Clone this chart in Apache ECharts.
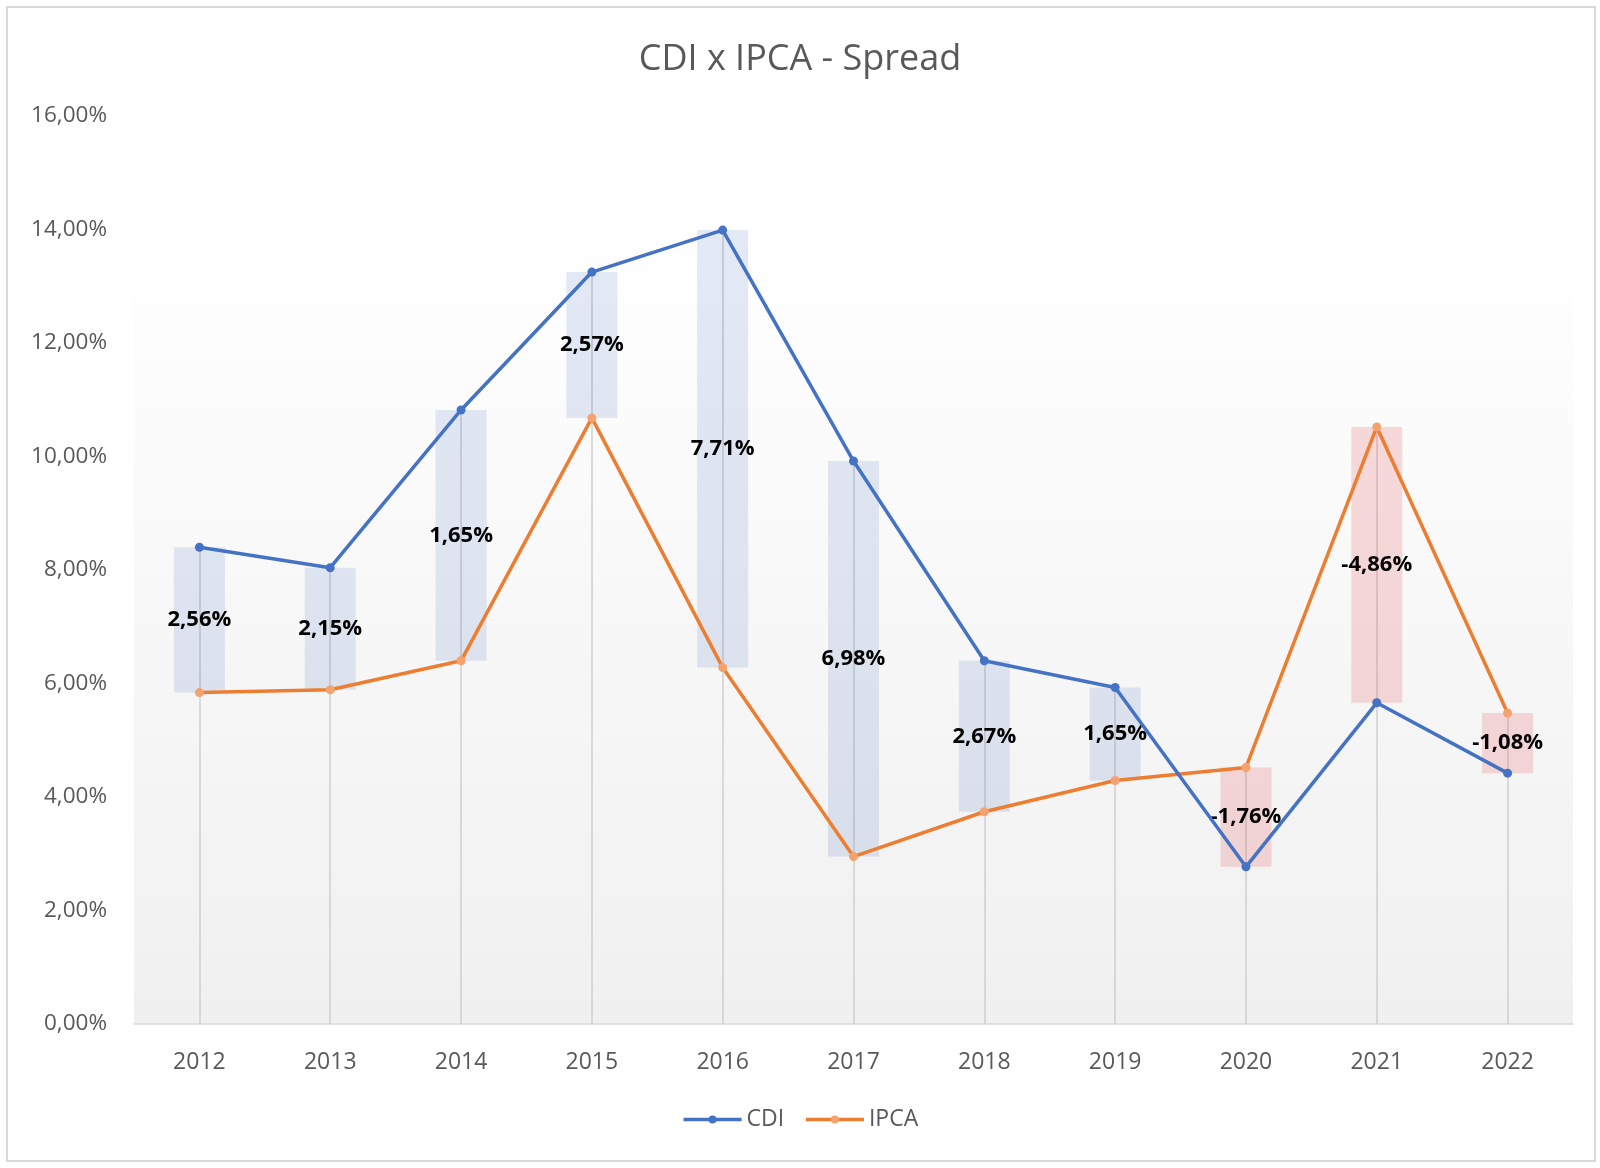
<!DOCTYPE html>
<html>
<head>
<meta charset="utf-8">
<script src="https://cdn.jsdelivr.net/npm/echarts@6/dist/echarts.min.js"></script>
<style>
  html, body { margin: 0; padding: 0; background: #fff; }
  #chart { width: 1600px; height: 1168px; }
</style>
</head>
<body>
<div id="chart"></div>
<script>
const years = ['2012', '2013', '2014', '2015', '2016', '2017', '2018', '2019', '2020', '2021', '2022'];
const cdi = [8.40, 8.04, 10.82, 13.25, 13.99, 9.92, 6.40, 5.93, 2.77, 5.66, 4.42];
const ipca = [5.84, 5.89, 6.40, 10.68, 6.28, 2.95, 3.74, 4.29, 4.52, 10.52, 5.48];
// labels as written in the chart
const spreadLabels = ['2,56%', '2,15%', '1,65%', '2,57%', '7,71%', '6,98%', '2,67%', '1,65%', '-1,76%', '-4,86%', '-1,08%'];

const font = 'Open Sans';
const gray = '#595959';

const base = years.map((y, i) => Math.min(cdi[i], ipca[i]));
const gap = years.map((y, i) => ({
  value: Math.abs(cdi[i] - ipca[i]),
  itemStyle: { color: cdi[i] >= ipca[i] ? 'rgba(68,114,196,0.15)' : 'rgba(230,80,80,0.2)' }
}));
const drops = years.map((y, i) => [
  { coord: [i, 0] },
  { coord: [i, Math.max(cdi[i], ipca[i])] }
]);

const chart = echarts.init(document.getElementById('chart'));
chart.setOption({
  animation: false,
  backgroundColor: '#fff',
  textStyle: { fontFamily: font },
  graphic: [{
    type: 'rect',
    shape: { x: 7, y: 7, width: 1588, height: 1154 },
    style: { fill: 'none', stroke: '#d9d9d9', lineWidth: 2 },
    z: -1
  }],
  title: {
    text: 'CDI x IPCA - Spread',
    left: 'center',
    top: 37,
    textStyle: { color: gray, fontSize: 36, fontWeight: 'normal', fontFamily: font }
  },
  legend: {
    bottom: 32,
    left: 'center',
    data: ['CDI', 'IPCA'],
    itemWidth: 58,
    itemHeight: 10,
    itemGap: 20,
    lineStyle: { width: 3.5 },
    textStyle: { color: gray, fontSize: 23, fontFamily: font }
  },
  grid: { left: 134, right: 27, top: 116, bottom: 144 },
  xAxis: {
    type: 'category',
    data: years,
    axisLine: { lineStyle: { color: '#d9d9d9', width: 1.5 } },
    axisTick: { show: false },
    axisLabel: { color: gray, fontSize: 23, margin: 27, fontFamily: font }
  },
  yAxis: {
    type: 'value',
    min: 0,
    max: 16,
    interval: 2,
    splitLine: { show: false },
    axisLine: { show: false },
    axisTick: { show: false },
    axisLabel: {
      color: gray, fontSize: 22.5, margin: 27, fontFamily: font,
      formatter: v => v.toFixed(2).replace('.', ',') + '%'
    }
  },
  series: [
    {
      name: 'base',
      type: 'bar',
      stack: 'spread',
      barWidth: 51,
      z: 1,
      data: base,
      itemStyle: { color: 'transparent' },
      silent: true,
      markArea: {
        silent: true,
        z: 0,
        itemStyle: {
          color: new echarts.graphic.LinearGradient(0, 0, 0, 1, [
            { offset: 0, color: '#ffffff' },
            { offset: 1, color: '#f0f0f0' }
          ])
        },
        data: [[{ yAxis: 0 }, { yAxis: 14.2 }]]
      }
    },
    {
      name: 'spread',
      type: 'bar',
      stack: 'spread',
      barWidth: 51,
      z: 2,
      data: gap,
      label: {
        show: true,
        position: 'inside',
        color: '#000',
        fontSize: 22,
        fontWeight: 'bold',
        fontFamily: font,
        formatter: p => spreadLabels[p.dataIndex]
      },
      markLine: {
        silent: true,
        z: 2,
        symbol: 'none',
        label: { show: false },
        lineStyle: { color: '#cfcfcf', width: 1.5, type: 'solid' },
        data: drops
      }
    },
    {
      name: 'CDI',
      type: 'line',
      z: 4,
      data: cdi,
      symbol: 'circle',
      symbolSize: 9,
      color: '#4472C4',
      lineStyle: { width: 3.5, color: '#4472C4' },
      itemStyle: { color: '#4472C4' }
    },
    {
      name: 'IPCA',
      type: 'line',
      z: 3,
      data: ipca,
      symbol: 'circle',
      symbolSize: 9,
      color: '#ED7D31',
      lineStyle: { width: 3.5, color: '#ED7D31' },
      itemStyle: { color: '#F4A36E' }
    }
  ]
});
</script>
</body>
</html>
